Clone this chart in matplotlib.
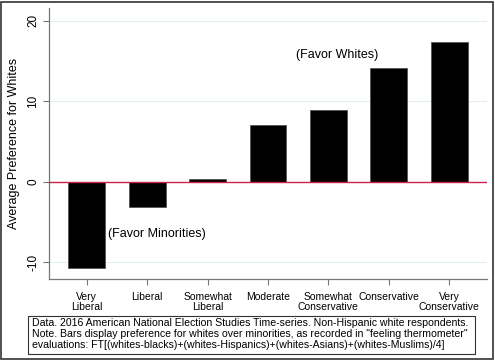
import matplotlib
matplotlib.use("Agg")
import matplotlib.pyplot as plt
from matplotlib.patches import Rectangle

categories = ["Very\nLiberal", "Liberal", "Somewhat\nLiberal", "Moderate",
              "Somewhat\nConservative", "Conservative", "Very\nConservative"]
values = [-10.7, -3.2, 0.3, 7.0, 8.9, 14.1, 17.4]
yticks = [-10, 0, 10, 20]

note = ("Data. 2016 American National Election Studies Time-series. Non-Hispanic white respondents.\n"
        "Note. Bars display preference for whites over minorities, as recorded in \"feeling thermometer\"\n"
        "evaluations: FT[(whites-blacks)+(whites-Hispanics)+(whites-Asians)+(whites-Muslims)/4]")

plt.rcParams["font.family"] = ["Liberation Sans", "DejaVu Sans"]

W, H = 495, 360
fig = plt.figure(figsize=(W / 100, H / 100), dpi=100)
ax = fig.add_axes([49 / W, 1 - 279 / H, (487 - 49) / W, (279 - 8) / H])

pos = list(range(len(categories)))
ax.bar(pos, values, width=0.61, color="black", edgecolor="#555555", linewidth=0.6, zorder=3)
ax.axhline(0, color="#c8234d", linewidth=1.0, zorder=4)

ax.set_xlim(-0.624, len(categories) - 1 + 0.624)
ax.set_ylim(-12.1, 21.6)
ax.set_yticks(yticks)
ax.set_yticklabels([str(t) for t in yticks], rotation=90, va="center", fontsize=8.5)
ax.set_xticks(pos)
ax.set_xticklabels(categories, fontsize=7.5, linespacing=1.0)
for t in yticks:
    if t != 0:
        ax.axhline(t, color="#e3eef0", linewidth=0.8, zorder=1)

ax.set_ylabel("Average Preference for Whites", fontsize=9, labelpad=5)
ax.tick_params(axis="both", direction="out", length=4, width=0.8, color="#777777")
ax.tick_params(axis="x", pad=5)
ax.tick_params(axis="y", pad=3)
for side in ["top", "right"]:
    ax.spines[side].set_visible(False)
for side in ["left", "bottom"]:
    ax.spines[side].set_color("#777777")
    ax.spines[side].set_linewidth(0.9)

ax.text(4.14, 15.7, "(Favor Whites)", ha="center", va="center", fontsize=9)
ax.text(0.35, -6.5, "(Favor Minorities)", ha="left", va="center", fontsize=9)

# note box
fig.patches.append(Rectangle((28 / W, 1 - 354 / H), (475 - 28) / W, (354 - 316) / H,
                             transform=fig.transFigure, fill=False, edgecolor="#333333",
                             linewidth=0.8))
fig.text(32 / W, 1 - 334 / H, note, ha="left", va="center", fontsize=7.55, linespacing=1.1)

# outer frame
fig.patches.append(Rectangle((1 / W, 1 / H), (W - 3) / W, (H - 3) / H,
                             transform=fig.transFigure, fill=False, edgecolor="#333333",
                             linewidth=1.2))

fig.savefig("out.png", dpi=100)
